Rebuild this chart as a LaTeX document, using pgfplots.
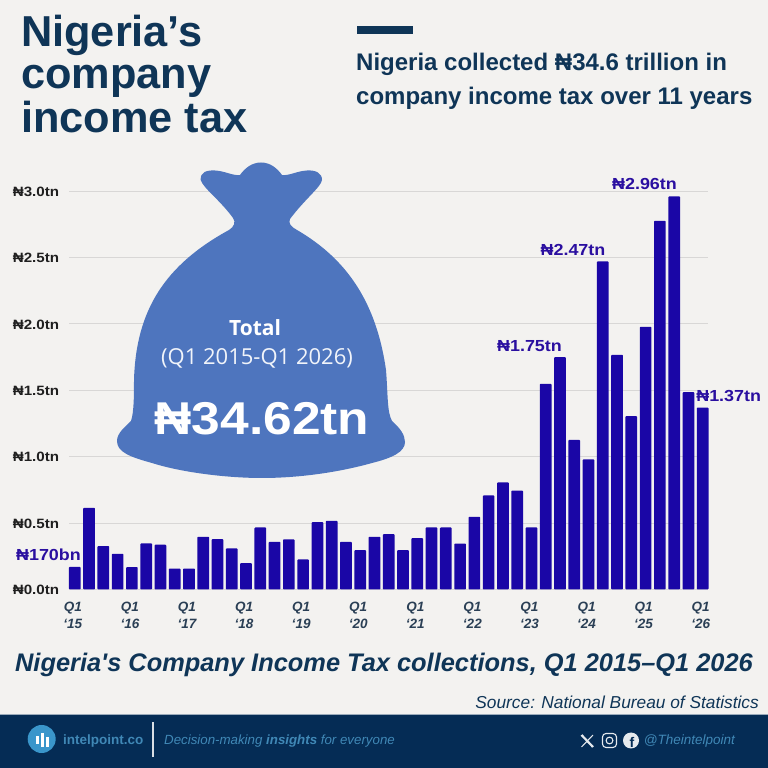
\documentclass[border=0pt]{standalone}
\usepackage{pgfplots}
\pgfplotsset{compat=1.18}
\usepackage{pgfplotstable}
\usepackage{fontspec}
\setmainfont{Liberation Sans}
\newfontfamily\plainfont{Liberation Sans}
\newfontfamily\widefont[FakeStretch=1.12]{Liberation Sans}
\newfontfamily\bagfont{Open Sans}
\definecolor{paper}{HTML}{F3F2F0}
\definecolor{navy}{HTML}{052C55}
\definecolor{headblue}{HTML}{0F3557}
\definecolor{barblue}{HTML}{1A06A6}
\definecolor{labelblue}{HTML}{2A0FA0}
\definecolor{bagblue}{HTML}{4E75BE}
\definecolor{gridgrey}{HTML}{D8D7D6}
\definecolor{ticknavy}{HTML}{2A3F55}
\definecolor{footblue}{HTML}{4088B6}
\definecolor{logoblue}{HTML}{3A96CB}

\pgfplotstableread{
idx value
0 0.170
1 0.615
2 0.327
3 0.269
4 0.168
5 0.347
6 0.337
7 0.158
8 0.158
9 0.397
10 0.379
11 0.309
12 0.198
13 0.467
14 0.359
15 0.377
16 0.226
17 0.507
18 0.517
19 0.359
20 0.296
21 0.397
22 0.417
23 0.296
24 0.387
25 0.467
26 0.467
27 0.346
28 0.547
29 0.708
30 0.806
31 0.745
32 0.467
33 1.549
34 1.750
35 1.127
36 0.979
37 2.470
38 1.767
39 1.305
40 1.978
41 2.776
42 2.960
43 1.486
44 1.370
}\citdata

\begin{document}
\begin{tikzpicture}
\fill[paper] (0,0) rectangle (768pt,768pt);

\begin{axis}[
    at={(69.1pt,178.5pt)}, anchor=south west,
    scale only axis, width=639.3pt, height=398.4pt,
    xmin=-0.4, xmax=44.4, ymin=0, ymax=3,
    clip=false,
    axis line style={draw=none},
    major tick length=0pt,
    ytick={0,0.5,1,1.5,2,2.5,3},
    yticklabels={₦0.0tn,₦0.5tn,₦1.0tn,₦1.5tn,₦2.0tn,₦2.5tn,₦3.0tn},
    yticklabel style={font=\widefont\fontsize{13.5}{14}\selectfont\bfseries, text=black!88, xshift=-6.5pt, yshift=-0.5pt},
    xtick={0,4,...,44},
    xticklabels={Q1\\‘15,Q1\\‘16,Q1\\‘17,Q1\\‘18,Q1\\‘19,Q1\\‘20,Q1\\‘21,Q1\\‘22,Q1\\‘23,Q1\\‘24,Q1\\‘25,Q1\\‘26},
    xticklabel style={font=\fontsize{13.5}{17.5}\selectfont\bfseries\itshape, text=ticknavy, align=center, xshift=-2pt, yshift=-9pt},
    ymajorgrids, grid style={gridgrey, line width=0.9pt},
]
\addplot[ybar, bar width=11.7pt, fill=barblue, draw=none, rounded corners=0.8pt] table[x=idx, y=value] {\citdata};
\end{axis}

\begin{scope}[x=1pt, y=-1pt, yshift=768pt]
  % money bag
  \fill[bagblue] (200.7,180)
    .. controls (200,172) and (207,170) .. (215,170.5)
    .. controls (225,171) and (233,176) .. (240,175)
    .. controls (245,168) and (252,162.5) .. (261,162.5)
    .. controls (270,162.5) and (277,168) .. (282,175)
    .. controls (289,176) and (297,171) .. (307,170.5)
    .. controls (316,170) and (322,173) .. (322,180)
    .. controls (321,187) and (305,199) .. (290,219)
    .. controls (288,223) and (291,227) .. (297,230)
    .. controls (345,258) and (376,300) .. (386,370)
    .. controls (388,395) and (387,412) .. (392,421)
    .. controls (400,428) and (405,435) .. (405,442)
    .. controls (405,452) and (392,458) .. (372,463)
    .. controls (340,472) and (300,478) .. (262,478)
    .. controls (225,478) and (180,472) .. (152,463)
    .. controls (130,457) and (117,452) .. (117,441)
    .. controls (117,433) and (125,427) .. (131,421)
    .. controls (134,412) and (134,395) .. (134,380)
    .. controls (136,310) and (165,265) .. (229,230)
    .. controls (234,227) and (236,222) .. (233,218)
    .. controls (220,200) and (203,188) .. (200.7,180) -- cycle;
  \node[text=white, font=\bagfont\fontsize{21}{22}\selectfont\bfseries] at (255,328) {Total};
  \node[text=white!92!bagblue, font=\bagfont\fontsize{22}{24}\selectfont] at (257,358) {(Q1 2015-Q1 2026)};
  \node[text=white, font=\widefont\fontsize{46}{48}\selectfont\bfseries] at (262,419) {₦34.62tn};

  % value labels
  \node[text=labelblue, font=\widefont\fontsize{16}{18}\selectfont\bfseries] at (48.5,555) {₦170bn};
  \node[text=labelblue, font=\widefont\fontsize{16}{18}\selectfont\bfseries] at (529.5,346) {₦1.75tn};
  \node[text=labelblue, font=\widefont\fontsize{16}{18}\selectfont\bfseries] at (573,250) {₦2.47tn};
  \node[text=labelblue, font=\widefont\fontsize{16}{18}\selectfont\bfseries] at (644.5,184) {₦2.96tn};
  \node[text=labelblue, font=\widefont\fontsize{16}{18}\selectfont\bfseries] at (728.7,396) {₦1.37tn};

  % heading
  \node[anchor=base west, text=headblue, inner sep=0pt, font=\fontsize{43.3}{46}\selectfont\bfseries] at (21,47) {Nigeria’s};
  \node[anchor=base west, text=headblue, inner sep=0pt, font=\fontsize{43.3}{46}\selectfont\bfseries] at (21,89) {company};
  \node[anchor=base west, text=headblue, inner sep=0pt, font=\fontsize{43.3}{46}\selectfont\bfseries] at (21,133) {income tax};
  \fill[headblue] (357,26) rectangle (413,34);
  \node[anchor=base west, text=headblue, inner sep=0pt, font=\fontsize{24}{28}\selectfont\bfseries] at (356,71) {Nigeria collected ₦34.6 trillion in};
  \node[anchor=base west, text=headblue, inner sep=0pt, font=\fontsize{24}{28}\selectfont\bfseries] at (356,105) {company income tax over 11 years};

  % caption and source
  \node[text=headblue, font=\plainfont\fontsize{25.4}{28}\selectfont\bfseries\itshape] at (384,665) {Nigeria's Company Income Tax collections, Q1 2015–Q1 2026};
  \node[anchor=east, inner sep=0pt, text=headblue, font=\fontsize{17.3}{18}\selectfont\itshape] at (759,702) {Source: National Bureau of Statistics};

  % footer band
  \fill[navy] (0,715) rectangle (768,768);
  \fill[white!60!navy] (0,714.5) rectangle (768,715.5);
  \fill[logoblue] (41.7,739) circle (14);
  \fill[white] (35.7,735.7) rectangle (39,744);
  \fill[white] (41,732.7) rectangle (43.5,746.7);
  \fill[white] (45.7,736.7) rectangle (49,747);
  \node[anchor=west, text=footblue, inner sep=0pt, font=\fontsize{13.5}{16}\selectfont\bfseries] at (63,741) {intelpoint.co};
  \fill[white!85!navy] (152,722) rectangle (153.5,757);
  \node[anchor=west, text=footblue, inner sep=0pt, font=\fontsize{13.3}{16}\selectfont\itshape] at (164,741) {Decision-making \textbf{insights} for everyone};
  \draw[white!90!navy, line width=2.2pt] (581.5,735) -- (593,747);
  \draw[white!90!navy, line width=1pt] (593,735) -- (581.5,747);
  \draw[white!90!navy, line width=1.1pt, rounded corners=3.5pt] (602.5,733.5) rectangle (616.5,747.5);
  \draw[white!90!navy, line width=1.1pt] (609.5,740.5) circle (3.4);
  \fill[white!90!navy] (631,740.5) circle (8);
  \node[text=navy, font=\fontsize{14}{14}\selectfont\bfseries] at (632,742.5) {f};
  \node[anchor=east, text=footblue, inner sep=0pt, font=\fontsize{13.5}{16}\selectfont\itshape] at (735,741.5) {@Theintelpoint};
\end{scope}
\end{tikzpicture}
\end{document}
